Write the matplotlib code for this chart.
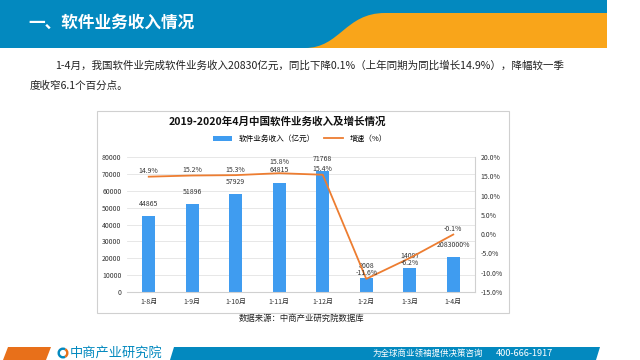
import matplotlib.pyplot as plt
from matplotlib.patches import Rectangle, Polygon, Wedge, PathPatch
from matplotlib.path import Path

plt.rcParams['font.family'] = ['Noto Sans CJK SC', 'DejaVu Sans']

# data
months = ['1-8月', '1-9月', '1-10月', '1-11月', '1-12月', '1-2月', '1-3月', '1-4月']
revenue = [44865, 51896, 57929, 64815, 71768, 8008, 14097, 20830]
revenue_labels = ['44865', '51896', '57929', '64815', '71768', '8008', '14097', '2083000%']
growth = [14.9, 15.2, 15.3, 15.8, 15.4, -11.6, -6.2, -0.1]
growth_labels = ['14.9%', '15.2%', '15.3%', '15.8%', '15.4%', '-11.6%', '-6.2%', '-0.1%']

BLUE = '#0389BF'
ORANGE = '#F9A51A'
BAR = '#3F9CF0'
LINE = '#ED7D31'
W, H = 640, 360

fig = plt.figure(figsize=(6.4, 3.6), dpi=100)

# background layer in pixel coordinates (y downwards)
bg = fig.add_axes([0, 0, 1, 1])
bg.set_xlim(0, W)
bg.set_ylim(H, 0)
bg.axis('off')

# header band
bg.add_patch(Rectangle((0, 0), 607, 48, color=BLUE, lw=0))
verts = [(305, 48), (340, 48), (345, 13), (385, 13), (607, 13), (607, 48), (305, 48)]
codes = [Path.MOVETO, Path.CURVE4, Path.CURVE4, Path.CURVE4, Path.LINETO, Path.LINETO, Path.CLOSEPOLY]
bg.add_patch(PathPatch(Path(verts, codes), color=ORANGE, lw=0))
bg.text(28, 23, '一、软件业务收入情况', color='white', fontsize=12, fontweight='bold', va='center')

# paragraph
bg.text(55, 66, '1-4月，我国软件业完成软件业务收入20830亿元，同比下降0.1%（上年同期为同比增长14.9%），降幅较一季',
        fontsize=7.6, va='center', color='#222222')
bg.text(30, 86, '度收窄6.1个百分点。', fontsize=7.6, va='center', color='#222222')

# chart frame
bg.add_patch(Rectangle((97, 111), 412, 202, fill=False, ec='#D0D0D0', lw=0.8))
bg.text(277, 122, '2019-2020年4月中国软件业务收入及增长情况', fontsize=7.6, fontweight='bold',
        ha='center', va='center', color='#111111')
bg.text(302, 318, '数据来源：中商产业研究院数据库', fontsize=6, ha='center', va='center', color='#222222')

# footer
bg.add_patch(Polygon([(8, 347), (51, 347), (46, 360), (3, 360)], color='#E8701A', lw=0))
bg.add_patch(Wedge((63, 353), 5.5, 60, 300, width=2.4, color=BLUE, lw=0))
bg.add_patch(Wedge((63, 353), 5.5, -60, 60, width=2.4, color='#E8701A', lw=0))
bg.text(70, 353, '中商产业研究院', color=BLUE, fontsize=9.5, va='center')
bg.add_patch(Polygon([(174, 347), (600, 347), (596, 360), (170, 360)], color=BLUE, lw=0))
bg.text(373, 353, '为全球商业领袖提供决策咨询', color='white', fontsize=6.1, va='center')
bg.text(496, 353, '400-666-1917', color='white', fontsize=6.6, va='center')

# plot area
ax = fig.add_axes([127 / W, 68 / H, 348 / W, 135 / H])
x = range(len(months))
ax.bar(x, revenue, width=0.3, color=BAR, label='软件业务收入（亿元）', zorder=2)
ax.set_ylim(0, 80000)
ax.set_yticks(range(0, 80001, 10000))
ax.set_xlim(-0.5, len(months) - 0.5)
ax.set_xticks(list(x))
ax.set_xticklabels(months)
ax.grid(axis='y', color='#E3E3E3', lw=0.6, zorder=0)
for s in ['top', 'left', 'right']:
    ax.spines[s].set_visible(False)
ax.spines['bottom'].set_color('#D0D0D0')
ax.tick_params(length=0, labelsize=5, colors='#333333', pad=4)
for i, v in enumerate(revenue):
    ax.annotate(revenue_labels[i], (i, v), xytext=(0, 6), textcoords='offset points',
                ha='center', va='bottom', fontsize=5, color='#333333')

ax2 = ax.twinx()
ax2.plot(x, growth, color=LINE, lw=1.3, label='增速（%）', zorder=3)
ax2.set_ylim(-15, 20)
ax2.set_yticks(range(-15, 21, 5))
ax2.set_yticklabels([f'{v:.1f}%' for v in range(-15, 21, 5)])
for s in ['top', 'left', 'bottom']:
    ax2.spines[s].set_visible(False)
ax2.spines['right'].set_color('#D0D0D0')
ax2.tick_params(length=0, labelsize=5, colors='#333333', pad=4)
for i, v in enumerate(growth):
    if i == 6:
        ax2.annotate(growth_labels[i], (i, v), xytext=(0, -1), textcoords='offset points',
                     ha='center', va='top', fontsize=5, color='#333333')
    else:
        dy = 5 if i == 3 else 1
        ax2.annotate(growth_labels[i], (i, v), xytext=(0, dy), textcoords='offset points',
                     ha='center', va='bottom', fontsize=5, color='#333333')

h1, l1 = ax.get_legend_handles_labels()
h2, l2 = ax2.get_legend_handles_labels()
fig.legend(h1 + h2, l1 + l2, loc='center', bbox_to_anchor=(300 / W, 1 - 139 / H), ncol=2,
           frameon=False, fontsize=5.5, handlelength=2.5, handleheight=0.6, columnspacing=1.2)

fig.savefig('out.png', dpi=100)
